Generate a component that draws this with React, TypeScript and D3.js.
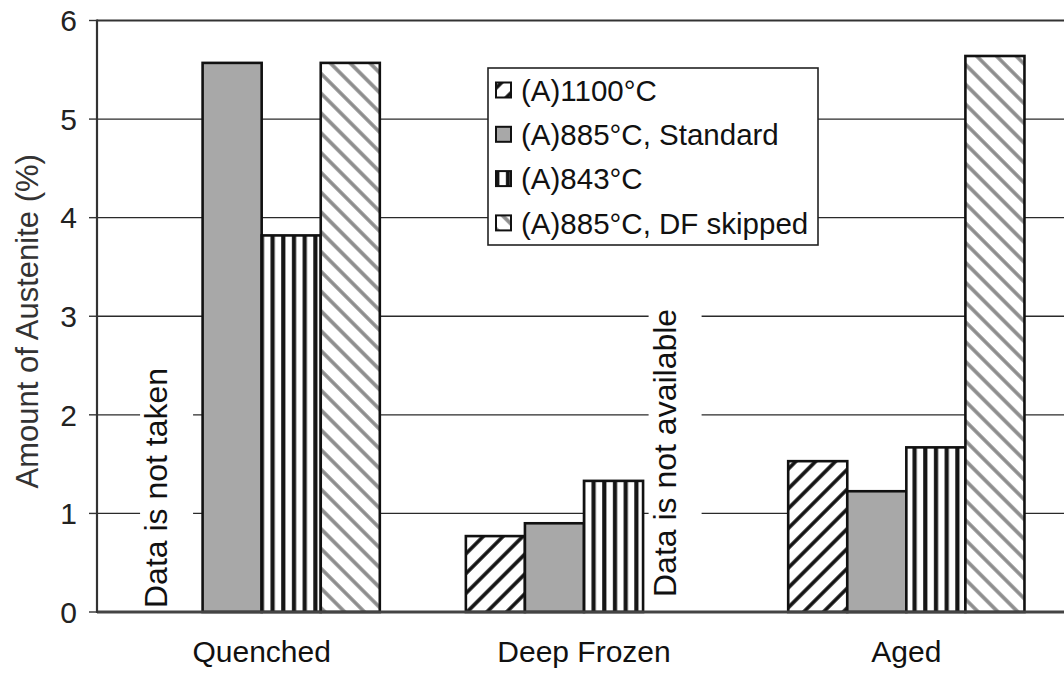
import { useEffect, useRef } from 'react';
import * as d3 from 'd3';

// values
const categories = ['Quenched', 'Deep Frozen', 'Aged'];
const seriesNames = ['(A)1100°C', '(A)885°C, Standard', '(A)843°C', '(A)885°C, DF skipped'];
const a1100 = [null, 0.77, 1.53];
const a885Standard = [5.57, 0.9, 1.225];
const a843 = [3.82, 1.33, 1.67];
const a885Skipped = [5.57, null, 5.64];
const yTicks = [0, 1, 2, 3, 4, 5, 6];
const notes = [
  { category: 'Quenched', series: 0, text: 'Data is not taken' },
  { category: 'Deep Frozen', series: 3, text: 'Data is not available' },
];

const FONT = 'Arial, "Liberation Sans", sans-serif';

export default function App() {
  const svgRef = useRef<SVGSVGElement>(null);

  useEffect(() => {
    if (!svgRef.current) return;
    const svg = d3.select(svgRef.current);
    svg.selectAll('*').remove();

    const W = 1064;
    const H = 675;
    const left = 97;
    const right = 1064;
    const top = 20.5;
    const bottom = 612;

    const allSeries = [a1100, a885Standard, a843, a885Skipped];
    const rows = categories.flatMap((c, ci) =>
      allSeries.map((vals, si) => ({ category: c, series: si, value: vals[ci] }))
    );

    const x0 = d3
      .scaleBand<string>()
      .domain(categories)
      .range([left + 3.5, right + 3.5])
      .paddingInner(0.267)
      .paddingOuter(0.1335);
    const x1 = d3
      .scaleBand<number>()
      .domain(seriesNames.map((_, i) => i))
      .range([0, x0.bandwidth()]);
    const y = d3.scaleLinear().domain([0, 6]).range([bottom, top]);

    // patterns
    const defs = svg.append('defs');
    const diag = (id: string, angle: number, color: string) => {
      const p = defs
        .append('pattern')
        .attr('id', id)
        .attr('patternUnits', 'userSpaceOnUse')
        .attr('width', 14)
        .attr('height', 14)
        .attr('patternTransform', `rotate(${angle})`);
      p.append('rect').attr('width', 14).attr('height', 14).attr('fill', '#fff');
      p.append('line')
        .attr('x1', 7).attr('y1', 0).attr('x2', 7).attr('y2', 14)
        .attr('stroke', color)
        .attr('stroke-width', 3.6);
    };
    diag('diagBlack', 45, '#111');
    diag('diagGray', -45, '#8c8c8c');
    const vp = defs
      .append('pattern')
      .attr('id', 'vert')
      .attr('patternUnits', 'userSpaceOnUse')
      .attr('width', 10.7)
      .attr('height', 10);
    vp.append('rect').attr('width', 10.7).attr('height', 10).attr('fill', '#fff');
    vp.append('rect').attr('x', 3).attr('width', 4.2).attr('height', 10).attr('fill', '#151515');

    const fills = ['url(#diagBlack)', '#a8a8a8', 'url(#vert)', 'url(#diagGray)'];

    svg.append('rect').attr('width', W).attr('height', H).attr('fill', '#fff');

    // grid lines
    svg
      .append('g')
      .selectAll('line')
      .data(yTicks.filter((t) => t > 0 && t < 6))
      .join('line')
      .attr('x1', left)
      .attr('x2', right)
      .attr('y1', (d) => y(d))
      .attr('y2', (d) => y(d))
      .attr('stroke', '#2a2a2a')
      .attr('stroke-width', 1.4);

    // white boxes + notes where data is missing
    const noteDx = [-6, 3];
    const noteDy = [-4, -15];
    const ng = svg.append('g');
    notes.forEach((n, i) => {
      const cx = (x0(n.category) || 0) + (x1(n.series) || 0) + x1.bandwidth() / 2 + noteDx[i];
      const y0 = bottom + noteDy[i];
      const t = ng
        .append('text')
        .attr('transform', `translate(${cx},${y0}) rotate(-90)`)
        .attr('font-family', FONT)
        .attr('font-size', 32)
        .attr('fill', '#111')
        .text(n.text);
      const len = (t.node() as SVGTextElement).getComputedTextLength();
      ng.insert('rect', 'text')
        .attr('x', cx - 27)
        .attr('y', y0 - len - 12)
        .attr('width', 53)
        .attr('height', len + 12 - noteDy[i] - 1)
        .attr('fill', '#fff');
    });

    // bars
    svg
      .append('g')
      .selectAll('rect')
      .data(rows.filter((r) => r.value != null))
      .join('rect')
      .attr('x', (d) => (x0(d.category) || 0) + (x1(d.series) || 0))
      .attr('y', (d) => y(d.value as number))
      .attr('width', x1.bandwidth())
      .attr('height', (d) => bottom - y(d.value as number))
      .attr('fill', (d) => fills[d.series])
      .attr('stroke', '#111')
      .attr('stroke-width', 2.6);

    // axes frame
    svg.append('line')
      .attr('x1', left).attr('x2', right).attr('y1', top).attr('y2', top)
      .attr('stroke', '#333').attr('stroke-width', 2.2);
    svg.append('line')
      .attr('x1', left).attr('x2', right).attr('y1', bottom).attr('y2', bottom)
      .attr('stroke', '#444').attr('stroke-width', 3);
    svg.append('line')
      .attr('x1', left).attr('x2', left).attr('y1', top - 1).attr('y2', bottom + 1)
      .attr('stroke', '#333').attr('stroke-width', 2.2);

    // y ticks
    const yg = svg.append('g');
    yg.selectAll('line')
      .data(yTicks)
      .join('line')
      .attr('x1', left - 8)
      .attr('x2', left)
      .attr('y1', (d) => y(d))
      .attr('y2', (d) => y(d))
      .attr('stroke', '#333')
      .attr('stroke-width', 1.4);
    yg.selectAll('text')
      .data(yTicks)
      .join('text')
      .attr('x', 77)
      .attr('y', (d) => y(d))
      .attr('dy', '0.36em')
      .attr('text-anchor', 'end')
      .attr('font-family', FONT)
      .attr('font-size', 30)
      .attr('fill', '#222')
      .text((d) => d);

    // category labels
    svg
      .append('g')
      .selectAll('text')
      .data(categories)
      .join('text')
      .attr('x', (d) => (x0(d) || 0) + x0.bandwidth() / 2)
      .attr('y', 662)
      .attr('text-anchor', 'middle')
      .attr('font-family', FONT)
      .attr('font-size', 30)
      .attr('fill', '#111')
      .text((d) => d);

    // y title
    svg
      .append('text')
      .attr('transform', `translate(38,${(top + bottom) / 2 + 5}) rotate(-90)`)
      .attr('text-anchor', 'middle')
      .attr('font-family', FONT)
      .attr('font-size', 31)
      .attr('fill', '#333')
      .text('Amount of Austenite (%)');

    // legend
    const lg = svg.append('g');
    lg.append('rect')
      .attr('x', 488)
      .attr('y', 68)
      .attr('width', 330)
      .attr('height', 177)
      .attr('fill', '#fff')
      .attr('stroke', '#222')
      .attr('stroke-width', 1.6);
    seriesNames.forEach((name, i) => {
      const cy = 90 + i * 44.3;
      lg.append('rect')
        .attr('x', 496)
        .attr('y', cy - 7.5)
        .attr('width', 15)
        .attr('height', 15)
        .attr('fill', fills[i])
        .attr('stroke', '#111')
        .attr('stroke-width', 2);
      lg.append('text')
        .attr('x', 521)
        .attr('y', cy)
        .attr('dy', '0.36em')
        .attr('font-family', FONT)
        .attr('font-size', 29.5)
        .attr('fill', '#111')
        .text(name);
    });
  }, []);

  return (
    <svg
      ref={svgRef}
      width={1064}
      height={675}
      style={{ position: 'absolute', left: 0, top: 0 }}
    />
  );
}
